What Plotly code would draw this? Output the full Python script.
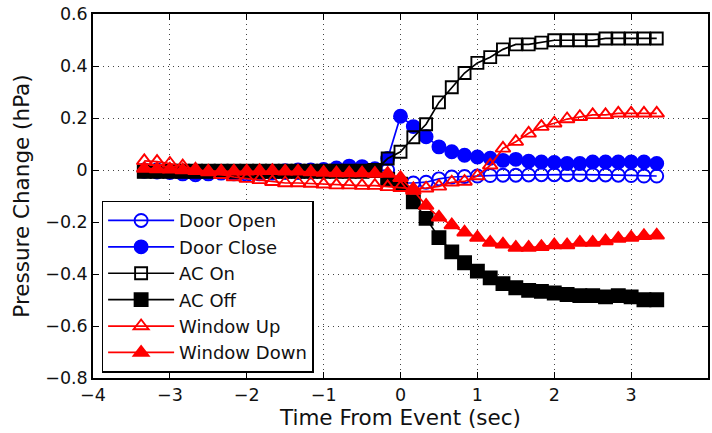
import plotly.graph_objects as go

# Sample times relative to the event (s), 6 samples per second
time_s = [-3.333, -3.167, -3.0, -2.833, -2.667, -2.5, -2.333, -2.167, -2.0, -1.833,
          -1.667, -1.5, -1.333, -1.167, -1.0, -0.833, -0.667, -0.5, -0.333, -0.167,
          0.0, 0.167, 0.333, 0.5, 0.667, 0.833, 1.0, 1.167, 1.333, 1.5,
          1.667, 1.833, 2.0, 2.167, 2.333, 2.5, 2.667, 2.833, 3.0, 3.167, 3.333]

# Pressure change (hPa) for each event type
door_open = [-0.005, -0.008, -0.01, -0.015, -0.018, -0.015, -0.012, -0.015, -0.018, -0.015,
             -0.012, -0.01, -0.01, -0.008, -0.005, -0.003, 0.0, 0.0, -0.002, 0.0,
             -0.05, -0.05, -0.047, -0.034, -0.027, -0.025, -0.023, -0.021, -0.02, -0.02,
             -0.019, -0.018, -0.018, -0.018, -0.018, -0.018, -0.019, -0.02, -0.021, -0.023, -0.023]
door_close = [0.0, 0.0, -0.005, -0.01, -0.012, -0.01, -0.008, -0.01, -0.01, -0.008,
              -0.005, -0.003, 0.0, 0.0, 0.002, 0.008, 0.015, 0.013, 0.005, 0.044,
              0.207, 0.167, 0.128, 0.089, 0.07, 0.057, 0.05, 0.045, 0.037, 0.041,
              0.034, 0.031, 0.029, 0.025, 0.025, 0.031, 0.031, 0.031, 0.031, 0.031, 0.025]
ac_on = [-0.005, -0.005, -0.005, -0.005, -0.005, -0.005, -0.005, -0.005, -0.005, -0.005,
         -0.005, -0.005, -0.005, -0.005, -0.005, -0.005, -0.005, -0.005, -0.003, 0.044,
         0.07, 0.126, 0.176, 0.26, 0.318, 0.373, 0.412, 0.434, 0.464, 0.483,
         0.483, 0.49, 0.499, 0.499, 0.499, 0.499, 0.506, 0.506, 0.506, 0.506, 0.506]
ac_off = [-0.005, -0.005, -0.005, -0.005, -0.005, -0.005, -0.005, -0.005, -0.005, -0.005,
          -0.005, -0.005, -0.005, -0.005, -0.005, -0.005, -0.005, -0.005, -0.002, -0.035,
          -0.055, -0.122, -0.186, -0.26, -0.315, -0.357, -0.389, -0.415, -0.437, -0.453,
          -0.463, -0.467, -0.473, -0.479, -0.483, -0.483, -0.488, -0.483, -0.488, -0.499, -0.499]
window_up = [0.035, 0.032, 0.025, 0.015, 0.003, -0.008, -0.018, -0.027, -0.033, -0.038,
             -0.045, -0.05, -0.05, -0.052, -0.055, -0.058, -0.058, -0.06, -0.06, -0.065,
             -0.068, -0.072, -0.07, -0.063, -0.047, -0.044, -0.023, 0.018, 0.083, 0.109,
             0.141, 0.167, 0.18, 0.196, 0.205, 0.212, 0.212, 0.218, 0.218, 0.218, 0.218]
window_down = [0.006, 0.004, 0.003, 0.0, -0.003, -0.005, -0.005, -0.005, -0.005, -0.003,
               -0.003, -0.005, -0.005, -0.008, -0.01, -0.012, -0.012, -0.012, -0.014, -0.014,
               -0.03, -0.079, -0.137, -0.182, -0.212, -0.24, -0.26, -0.279, -0.286, -0.298,
               -0.298, -0.295, -0.289, -0.289, -0.279, -0.279, -0.273, -0.264, -0.26, -0.253, -0.251]

x_ticks = [-4, -3, -2, -1, 0, 1, 2, 3, 4]
y_ticks = [-0.8, -0.6, -0.4, -0.2, 0, 0.2, 0.4, 0.6]

BLUE = "#0000ff"
BLACK = "#000000"
RED = "#ff0000"

series = [
    ("Door Open", door_open, BLUE, "circle-open", 13),
    ("Door Close", door_close, BLUE, "circle", 13),
    ("AC On", ac_on, BLACK, "square-open", 12),
    ("AC Off", ac_off, BLACK, "square", 13),
    ("Window Up", window_up, RED, "triangle-up-open", 13),
    ("Window Down", window_down, RED, "triangle-up", 13),
]

fig = go.Figure()
for name, vals, color, symbol, size in series:
    fig.add_trace(go.Scatter(
        x=time_s, y=vals, name=name, mode="lines+markers",
        line=dict(color=color, width=1.7),
        marker=dict(symbol=symbol, size=size, color=color,
                    line=dict(color=color, width=1.9)),
    ))

FONT = "DejaVu Sans, Liberation Sans, sans-serif"
axis_font = dict(family=FONT, size=17.5, color="#111111")
title_font = dict(family=FONT, size=21.5, color="#111111")

common = dict(
    showline=True, linecolor="#000000", linewidth=1.5, mirror="ticks",
    ticks="inside", ticklen=6, tickcolor="#000000", tickwidth=1,
    showgrid=True, gridcolor="#444444", gridwidth=1, griddash="1px,4px",
    zeroline=False, tickfont=axis_font,
)

fig.update_xaxes(range=[-4, 4], tickvals=x_ticks,
                 title=dict(text="Time From Event (sec)", font=title_font, standoff=4),
                 **common)
fig.update_yaxes(range=[-0.8, 0.6], tickvals=y_ticks, tickformat=".1~f",
                 title=dict(text="Pressure Change (hPa)", font=title_font, standoff=10),
                 **common)

fig.update_layout(
    width=712, height=433,
    margin=dict(l=93, r=2, t=14, b=55),
    paper_bgcolor="white", plot_bgcolor="white",
    legend=dict(
        x=0.014, y=0.487, xanchor="left", yanchor="top",
        bgcolor="white", bordercolor="#000000", borderwidth=1.5,
        font=dict(family=FONT, size=18, color="#111111"),
        itemwidth=66, tracegroupgap=0,
    ),
    showlegend=True,
)

fig.write_html("out.html")
